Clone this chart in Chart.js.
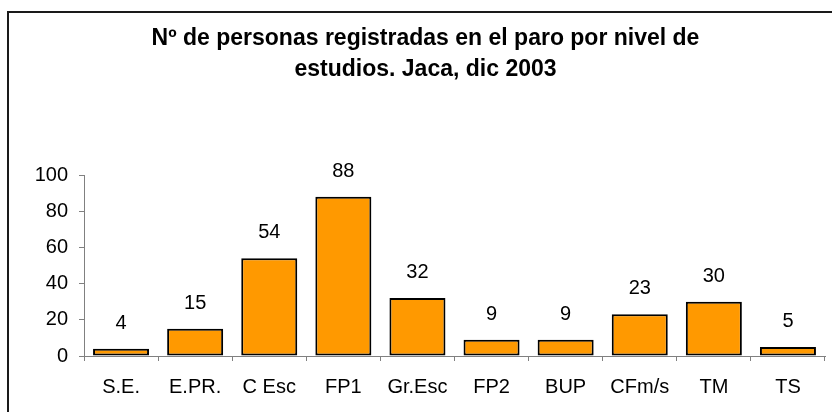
<!DOCTYPE html>
<html>
<head>
<meta charset="utf-8">
<script src="https://cdn.jsdelivr.net/npm/chart.js@4/dist/chart.umd.min.js"></script>
<style>
  html, body { margin: 0; padding: 0; background: #fff; }
  #wrap { width: 832px; height: 412px; }
</style>
</head>
<body>
<div id="wrap"><canvas id="chart"></canvas></div>
<script>
// Datos: parados por nivel de estudios, Jaca dic 2003
const categorias = ['S.E.', 'E.PR.', 'C Esc', 'FP1', 'Gr.Esc', 'FP2', 'BUP', 'CFm/s', 'TM', 'TS'];
const personas = [4, 15, 54, 88, 32, 9, 9, 23, 30, 5];
const titulo = ['Nº de personas registradas en el paro por nivel de', 'estudios. Jaca, dic 2003'];

const FUENTE = '"Liberation Sans", Arial, sans-serif';

// marco del gráfico (solo borde izquierdo y superior visibles)
const marco = {
    id: 'marco',
    beforeDraw(chart) {
        const ctx = chart.ctx;
        ctx.save();
        ctx.fillStyle = '#fff';
        ctx.fillRect(0, 0, chart.width, chart.height);
        ctx.strokeStyle = '#1a1a1a';
        ctx.lineWidth = 2;
        ctx.beginPath();
        ctx.moveTo(8, chart.height);
        ctx.lineTo(8, 12);
        ctx.lineTo(chart.width, 12);
        ctx.stroke();
        ctx.restore();
    }
};

// etiquetas con el valor encima de cada barra
const etiquetas = {
    id: 'etiquetas',
    afterDatasetsDraw(chart) {
        const ctx = chart.ctx;
        const meta = chart.getDatasetMeta(0);
        ctx.save();
        ctx.font = '20px ' + FUENTE;
        ctx.fillStyle = '#000';
        ctx.textAlign = 'center';
        ctx.textBaseline = 'alphabetic';
        meta.data.forEach((bar, i) => {
            ctx.fillText(String(personas[i]), bar.x, bar.y - 20);
        });
        ctx.restore();
    }
};

new Chart(document.getElementById('chart'), {
    type: 'bar',
    data: {
        labels: categorias,
        datasets: [{
            data: personas,
            backgroundColor: '#FF9900',
            borderColor: '#000',
            borderWidth: 2,
            borderSkipped: false,
            categoryPercentage: 1,
            barPercentage: 0.756
        }]
    },
    options: {
        responsive: true,
        maintainAspectRatio: false,
        animation: false,
        // el título va centrado sobre el marco, algo desplazado a la derecha
        layout: { padding: { left: 26, right: 7, top: 0, bottom: 0 } },
        plugins: {
            legend: { display: false },
            tooltip: { enabled: false },
            title: {
                display: true,
                text: titulo,
                color: '#000',
                font: { family: FUENTE, size: 23, weight: 'bold', lineHeight: '31px' },
                padding: { top: 23, bottom: 90 }
            }
        },
        scales: {
            x: {
                afterFit: s => { s.height = 56; },
                grid: { display: true, drawOnChartArea: false, drawTicks: true, tickLength: 5, color: '#808080', offset: true },
                border: { display: true, color: '#808080', width: 1 },
                ticks: { color: '#000', padding: 14, font: { family: FUENTE, size: 20 } }
            },
            y: {
                min: 0,
                max: 100,
                afterFit: s => { s.width = 58; },
                grid: { display: true, drawOnChartArea: false, drawTicks: true, tickLength: 5, color: '#808080' },
                border: { display: true, color: '#808080', width: 1 },
                ticks: { stepSize: 20, color: '#000', padding: 11, font: { family: FUENTE, size: 20 } }
            }
        }
    },
    plugins: [marco, etiquetas]
});
</script>
</body>
</html>
